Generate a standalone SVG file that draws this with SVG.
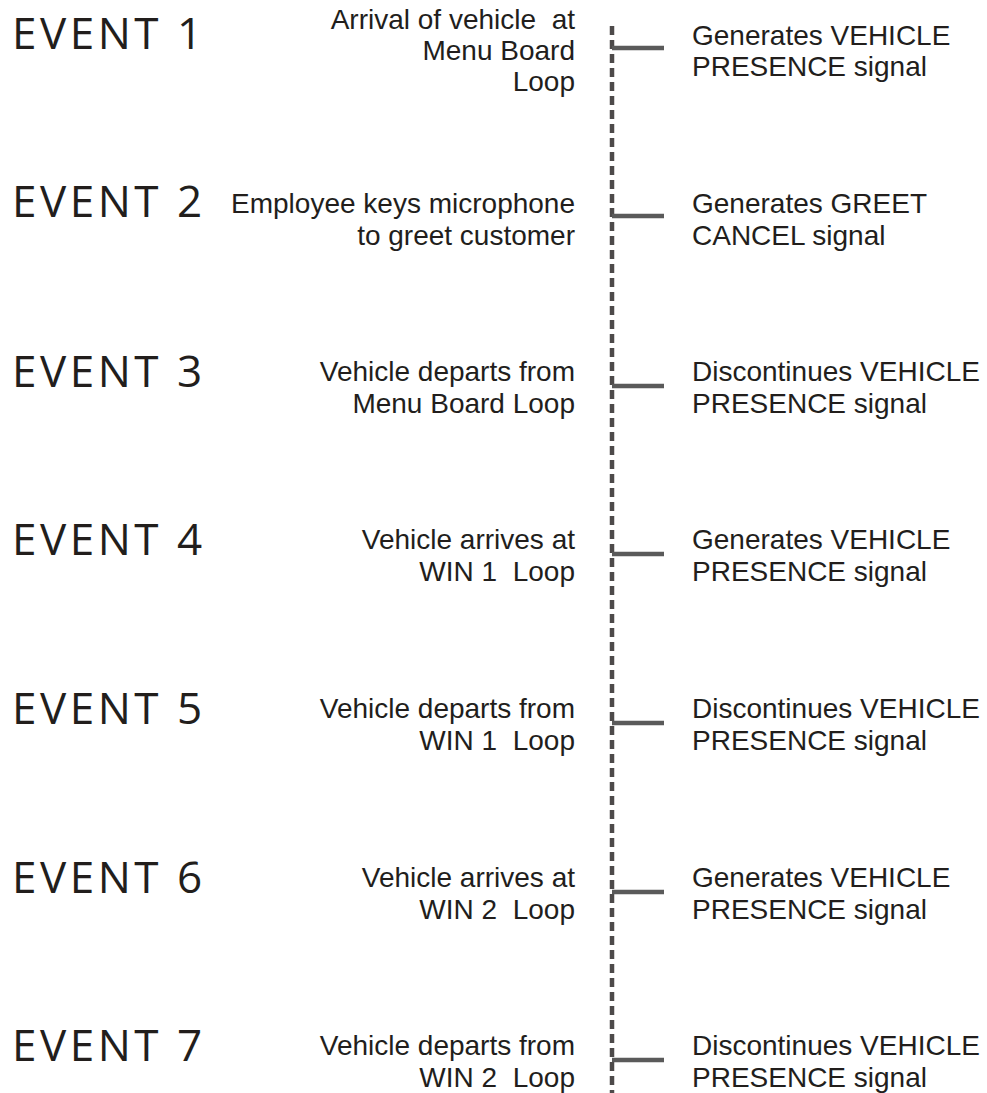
<svg xmlns="http://www.w3.org/2000/svg" width="987" height="1093" viewBox="0 0 987 1093">
<style>
.ev{font-family:"Open Sans","DejaVu Sans",sans-serif;font-size:44px;letter-spacing:3.5px;fill:#221e1c}
.mid{font-family:"Liberation Sans",Arial,sans-serif;font-size:28px;fill:#221e1c;text-anchor:end}
.sig{font-family:"Liberation Sans",Arial,sans-serif;font-size:28px;fill:#221e1c}
.spine{stroke:#4d4a4a;stroke-width:4.5;stroke-dasharray:9 5;fill:none}
.br{stroke:#5a5a5a;stroke-width:4.5;fill:none}
</style>
<rect width="987" height="1093" fill="#ffffff"/>
<g id="connectors">
<line class="spine" x1="612" y1="26" x2="612" y2="1093"/>
<line class="br" x1="612" y1="48" x2="664" y2="48"/>
<line class="br" x1="612" y1="216" x2="664" y2="216"/>
<line class="br" x1="612" y1="386" x2="664" y2="386"/>
<line class="br" x1="612" y1="554" x2="664" y2="554"/>
<line class="br" x1="612" y1="723" x2="664" y2="723"/>
<line class="br" x1="612" y1="892" x2="664" y2="892"/>
<line class="br" x1="612" y1="1060" x2="664" y2="1060"/>
</g>
<g id="event1">
<text class="ev" x="12" y="49">EVENT 1</text>
<text class="mid" x="575" y="29" xml:space="preserve">Arrival of vehicle  at</text>
<text class="mid" x="575" y="60">Menu Board</text>
<text class="mid" x="575" y="91">Loop</text>
<text class="sig" x="692" y="45">Generates VEHICLE</text>
<text class="sig" x="692" y="76">PRESENCE signal</text>
</g>
<g id="event2">
<text class="ev" x="12" y="217">EVENT 2</text>
<text class="mid" x="575" y="213">Employee keys microphone</text>
<text class="mid" x="575" y="245">to greet customer</text>
<text class="sig" x="692" y="213">Generates GREET</text>
<text class="sig" x="692" y="245">CANCEL signal</text>
</g>
<g id="event3">
<text class="ev" x="12" y="387">EVENT 3</text>
<text class="mid" x="575" y="381">Vehicle departs from</text>
<text class="mid" x="575" y="413">Menu Board Loop</text>
<text class="sig" x="692" y="381">Discontinues VEHICLE</text>
<text class="sig" x="692" y="413">PRESENCE signal</text>
</g>
<g id="event4">
<text class="ev" x="12" y="555">EVENT 4</text>
<text class="mid" x="575" y="549">Vehicle arrives at</text>
<text class="mid" x="575" y="581" xml:space="preserve">WIN 1  Loop</text>
<text class="sig" x="692" y="549">Generates VEHICLE</text>
<text class="sig" x="692" y="581">PRESENCE signal</text>
</g>
<g id="event5">
<text class="ev" x="12" y="724">EVENT 5</text>
<text class="mid" x="575" y="718">Vehicle departs from</text>
<text class="mid" x="575" y="750" xml:space="preserve">WIN 1  Loop</text>
<text class="sig" x="692" y="718">Discontinues VEHICLE</text>
<text class="sig" x="692" y="750">PRESENCE signal</text>
</g>
<g id="event6">
<text class="ev" x="12" y="893">EVENT 6</text>
<text class="mid" x="575" y="887">Vehicle arrives at</text>
<text class="mid" x="575" y="919" xml:space="preserve">WIN 2  Loop</text>
<text class="sig" x="692" y="887">Generates VEHICLE</text>
<text class="sig" x="692" y="919">PRESENCE signal</text>
</g>
<g id="event7">
<text class="ev" x="12" y="1061">EVENT 7</text>
<text class="mid" x="575" y="1055">Vehicle departs from</text>
<text class="mid" x="575" y="1087" xml:space="preserve">WIN 2  Loop</text>
<text class="sig" x="692" y="1055">Discontinues VEHICLE</text>
<text class="sig" x="692" y="1087">PRESENCE signal</text>
</g>
</svg>
